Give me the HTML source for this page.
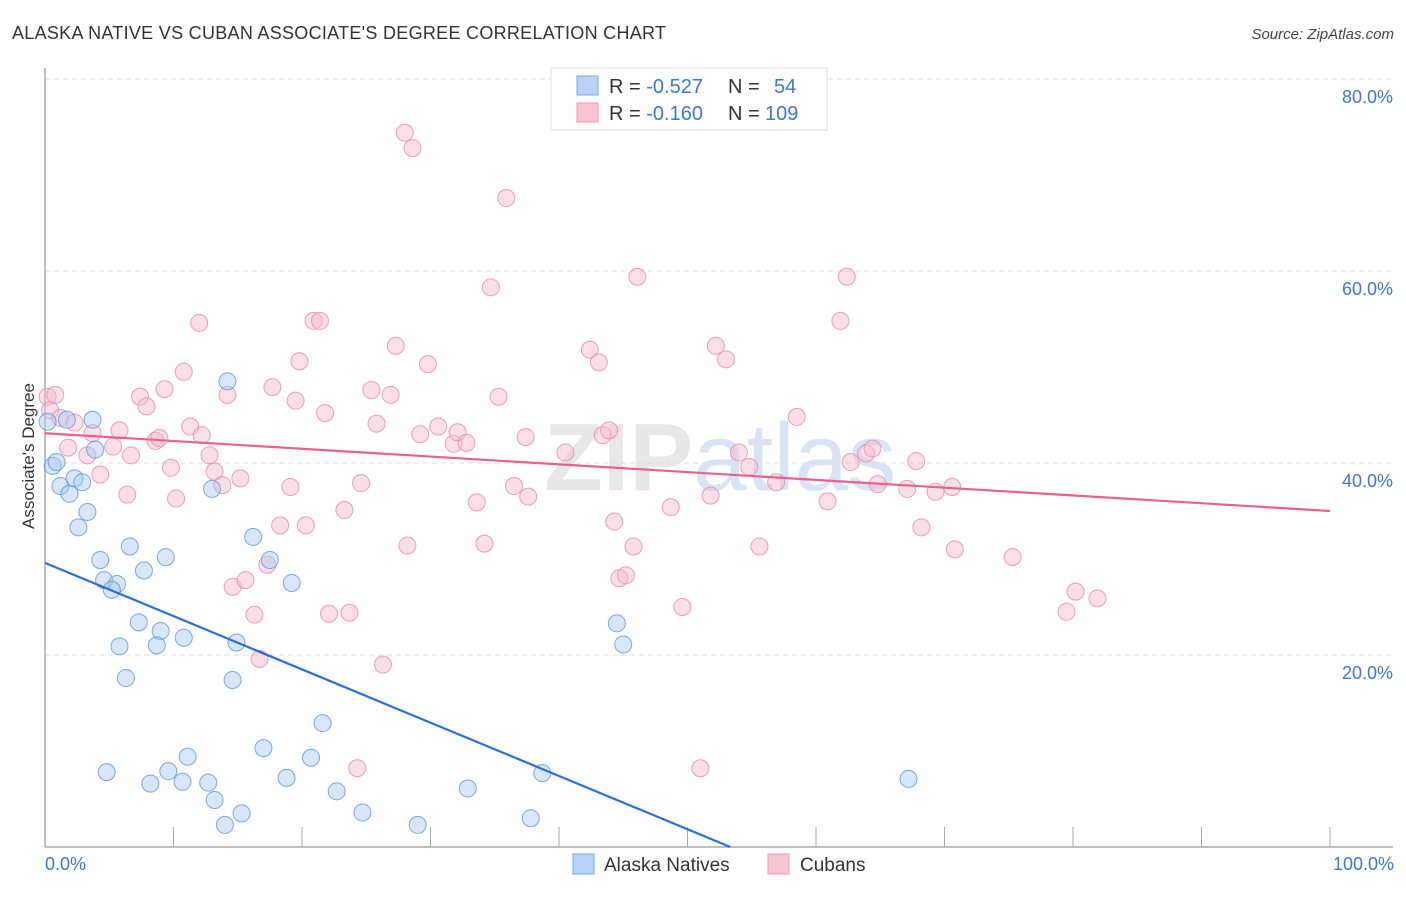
<!DOCTYPE html>
<html><head><meta charset="utf-8"><style>
body{margin:0;background:#fff;font-family:"Liberation Sans",sans-serif;}
svg text{font-family:"Liberation Sans",sans-serif;}
</style></head><body>
<svg id="chart" width="1406" height="892" xmlns="http://www.w3.org/2000/svg">
<text x="12" y="39" font-size="18" fill="#333" textLength="654">ALASKA NATIVE VS CUBAN ASSOCIATE'S DEGREE CORRELATION CHART</text>
<text x="1394" y="39" font-size="15" fill="#444" text-anchor="end" font-style="italic">Source: ZipAtlas.com</text>
<text x="720" y="490" font-size="96" fill="#ddd" text-anchor="middle" font-weight="bold" opacity="0.7">ZIP<tspan fill="#c8d8ee" font-weight="normal">atlas</tspan></text>
<g id="grid"></g><g id="axes"></g><g id="pts"></g><g id="trend"></g>
<text transform="translate(34,456) rotate(-90)" font-size="17" fill="#333" text-anchor="middle">Associate's Degree</text>
<text x="45" y="870" font-size="18" fill="#3a78d8">0.0%</text>
<text x="1394" y="870" font-size="18" fill="#3a78d8" text-anchor="end">100.0%</text>
<g>
<rect x="551" y="68" width="276" height="62" fill="#fff" stroke="#ddd"/>
<rect x="577" y="76" width="21" height="19" fill="#b8d3f5" stroke="#7aa8e6"/>
<rect x="577" y="103" width="21" height="19" fill="#f8c4d4" stroke="#ec9ab4"/>
<text x="609" y="93" font-size="20" fill="#333">R = <tspan fill="#3a78d8">-0.527</tspan><tspan x="728">N = </tspan><tspan x="774" fill="#3a78d8">54</tspan></text>
<text x="609" y="120" font-size="20" fill="#333">R = <tspan fill="#3a78d8"> -0.160</tspan><tspan x="728">N = </tspan><tspan x="765" fill="#3a78d8">109</tspan></text>
</g>
<g><rect x="573" y="854" width="21" height="20" fill="#b8d3f5" stroke="#7aa8e6"/><text x="604" y="871" font-size="19" fill="#333">Alaska Natives</text></g>
<g><rect x="768" y="854" width="21" height="20" fill="#f8c4d4" stroke="#ec9ab4"/><text x="800" y="871" font-size="19" fill="#333">Cubans</text></g>
</svg>
<script>
const yTicks=[20,40,60,80];
const yTickLabels=["20.0%","40.0%","60.0%","80.0%"];
const xTicks=[0,10,20,30,40,50,60,70,80,90,100];
const alaskaX=[0.2,0.6,0.9,3.7,1.7,3.9,1.2,1.9,2.3,2.9,3.3,2.6,14.2,13.0,16.2,6.6,9.4,4.3,4.6,5.6,5.2,7.7,17.5,19.2,7.3,9.0,8.7,10.8,5.8,14.9,6.3,14.6,21.6,17.0,11.1,20.7,4.8,9.6,8.2,10.7,12.7,18.8,13.2,15.3,22.7,24.7,14.0,29.0,32.9,37.8,38.7,44.5,45.0,67.2];
const alaskaY=[44.3,39.7,40.1,44.5,44.5,41.4,37.6,36.8,38.4,38.0,34.9,33.3,48.5,37.3,32.3,31.3,30.2,29.9,27.8,27.4,26.8,28.8,29.9,27.5,23.4,22.5,21.0,21.8,20.9,21.3,17.6,17.4,12.9,10.3,9.4,9.3,7.8,7.9,6.6,6.8,6.7,7.2,4.9,3.5,5.8,3.6,2.3,2.3,6.1,3.0,7.7,23.3,21.1,7.1];
const cubanX=[0.2,0.8,0.4,1.2,2.3,1.8,3.7,3.3,4.3,5.3,5.8,6.7,6.4,7.4,7.9,8.6,8.9,9.3,9.8,10.2,10.8,11.3,12.0,12.2,12.8,13.2,13.8,14.2,15.2,14.6,15.6,16.3,16.7,17.3,17.7,18.3,19.1,19.5,19.8,20.3,20.9,21.4,21.8,22.1,23.3,23.7,24.3,24.6,25.4,25.8,26.3,26.9,27.3,28.0,28.2,28.6,29.2,29.8,30.6,31.8,32.1,32.8,33.6,34.2,34.7,35.3,35.9,36.5,37.6,37.4,40.5,42.4,43.1,43.4,43.9,44.3,44.7,45.2,45.8,46.1,48.7,49.6,51.0,51.8,52.2,53.0,54.0,54.8,55.6,56.9,58.5,60.9,61.9,62.4,62.7,63.9,64.4,64.8,67.1,67.8,68.2,69.3,70.6,70.8,75.3,79.5,80.2,81.9];
const cubanY=[46.9,47.1,45.5,44.7,44.2,41.6,43.1,40.8,38.8,41.7,43.4,40.8,36.7,46.9,45.9,42.3,42.6,47.7,39.5,36.3,49.5,43.8,54.6,42.9,40.8,39.1,37.7,47.1,38.4,27.1,27.8,24.2,19.6,29.4,47.9,33.5,37.5,46.5,50.6,33.5,54.8,54.8,45.2,24.3,35.1,24.4,8.2,37.9,47.6,44.1,19.0,47.1,52.2,74.4,31.4,72.8,43.0,50.3,43.8,42.0,43.2,42.1,35.9,31.6,58.3,46.9,67.6,37.6,36.5,42.7,41.1,51.8,50.5,42.9,43.4,33.9,28.0,28.3,31.3,59.4,35.4,25.0,8.2,36.6,52.2,50.8,41.1,39.6,31.3,38.0,44.8,36.0,54.8,59.4,40.1,41.0,41.5,37.8,37.3,40.2,33.3,37.0,37.5,31.0,30.2,24.5,26.6,25.9];
const alaskaTrend=[29.6,-0.555];
const cubanTrend=[43.1,-0.081];
const NS="http://www.w3.org/2000/svg";
const X0=45,X1=1330,Y0=847,PY=9.6;
function sx(v){return X0+(X1-X0)*v/100;}
function sy(v){return Y0-v*PY;}
function mk(t,a,p){const e=document.createElementNS(NS,t);for(const k in a)e.setAttribute(k,a[k]);p.appendChild(e);return e;}
const grid=document.getElementById('grid'),axes=document.getElementById('axes'),pts=document.getElementById('pts'),tr=document.getElementById('trend');
yTicks.forEach((v,i)=>{
 const l=mk('line',{x1:X0,x2:1393,y1:sy(v),y2:sy(v),stroke:'#ddd','stroke-dasharray':'5,4'},grid);
 
 
 const t=mk('text',{x:1393,y:sy(v)+24,'font-size':18,fill:'#3a78d8','text-anchor':'end'},grid);
 t.textContent=yTickLabels[i];
 
 
});
const ya=mk('line',{x1:X0,x2:X0,y1:68,y2:Y0,stroke:'#aaa','stroke-width':1.5},axes);


const xa=mk('line',{x1:X0,x2:1393,y1:Y0,y2:Y0,stroke:'#aaa','stroke-width':1.5},axes);


xTicks.forEach(v=>{const t=mk('line',{x1:sx(v),x2:sx(v),y1:Y0-20,y2:Y0,stroke:'#aaa'},axes);
 
 });
function series(xs,ys,fill,stroke,name){xs.forEach((x,i)=>{const c=mk('circle',{cx:sx(x),cy:sy(ys[i]),r:8.5,fill:fill,'fill-opacity':0.45,stroke:stroke,'stroke-opacity':0.8,'stroke-width':1},pts);
 
 });}
series(cubanX,cubanY,'#f5b8cb','#e88aa8','cuban-point');
series(alaskaX,alaskaY,'#a8c8f0','#5b93e0','alaska-native-point');
function trend(p,x2,col,name){const l=mk('line',{x1:sx(0),y1:sy(p[0]),x2:sx(x2),y2:sy(p[0]+p[1]*x2),stroke:col,'stroke-width':2.2},tr);
 
 }
trend(cubanTrend,100,'#e8608e','cuban-trend-line');
trend(alaskaTrend,-alaskaTrend[0]/alaskaTrend[1],'#2a6fd8','alaska-native-trend-line');
</script>
</body></html>
